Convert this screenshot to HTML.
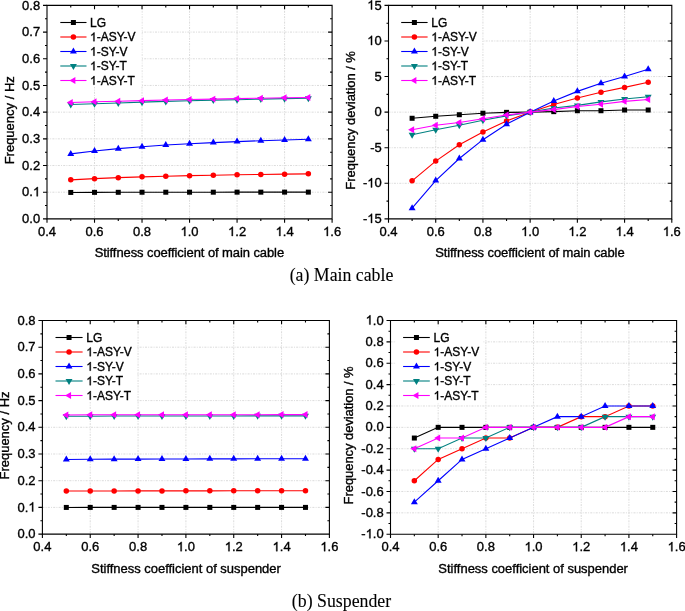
<!DOCTYPE html>
<html><head><meta charset="utf-8"><title>Frequency vs stiffness coefficient</title>
<style>
html,body{margin:0;padding:0;background:#fff;}
body{width:685px;height:611px;overflow:hidden;}
svg{display:block;will-change:transform;font-family:"Liberation Sans",sans-serif;}
text{stroke:#000;stroke-width:0.35px;}
.c{stroke-width:0.1px;}
</style></head><body>
<svg width="685" height="611" viewBox="0 0 685 611">
<rect width="685" height="611" fill="#fff"/>
<path d="M94.52 5.4V218.9M142.03 5.4V218.9M189.55 5.4V218.9M237.07 5.4V218.9M284.58 5.4V218.9M47 192.21H332.1M47 165.53H332.1M47 138.84H332.1M47 112.15H332.1M47 85.46H332.1M47 58.77H332.1M47 32.09H332.1" stroke="#d2d2d2" stroke-width="0.8" stroke-dasharray="2 1.2 1 1.2" fill="none"/>
<rect x="47.6" y="6" width="93.9" height="80.8" fill="#fff"/>
<polyline points="70.76,192.44 94.52,192.37 118.27,192.31 142.03,192.25 165.79,192.22 189.55,192.21 213.31,192.19 237.07,192.16 260.82,192.16 284.58,192.13 308.34,192.13" fill="none" stroke="#000000" stroke-width="1.1"/>
<rect x="68.26" y="189.94" width="5" height="5" fill="#000000"/>
<rect x="92.02" y="189.87" width="5" height="5" fill="#000000"/>
<rect x="115.77" y="189.81" width="5" height="5" fill="#000000"/>
<rect x="139.53" y="189.75" width="5" height="5" fill="#000000"/>
<rect x="163.29" y="189.72" width="5" height="5" fill="#000000"/>
<rect x="187.05" y="189.71" width="5" height="5" fill="#000000"/>
<rect x="210.81" y="189.69" width="5" height="5" fill="#000000"/>
<rect x="234.57" y="189.66" width="5" height="5" fill="#000000"/>
<rect x="258.32" y="189.66" width="5" height="5" fill="#000000"/>
<rect x="282.08" y="189.63" width="5" height="5" fill="#000000"/>
<rect x="305.84" y="189.63" width="5" height="5" fill="#000000"/>
<polyline points="70.76,179.84 94.52,178.64 118.27,177.65 142.03,176.87 165.79,176.2 189.55,175.67 213.31,175.2 237.07,174.8 260.82,174.46 284.58,174.16 308.34,173.85" fill="none" stroke="#ff0000" stroke-width="1.1"/>
<circle cx="70.76" cy="179.84" r="2.75" fill="#ff0000"/>
<circle cx="94.52" cy="178.64" r="2.75" fill="#ff0000"/>
<circle cx="118.27" cy="177.65" r="2.75" fill="#ff0000"/>
<circle cx="142.03" cy="176.87" r="2.75" fill="#ff0000"/>
<circle cx="165.79" cy="176.2" r="2.75" fill="#ff0000"/>
<circle cx="189.55" cy="175.67" r="2.75" fill="#ff0000"/>
<circle cx="213.31" cy="175.2" r="2.75" fill="#ff0000"/>
<circle cx="237.07" cy="174.8" r="2.75" fill="#ff0000"/>
<circle cx="260.82" cy="174.46" r="2.75" fill="#ff0000"/>
<circle cx="284.58" cy="174.16" r="2.75" fill="#ff0000"/>
<circle cx="308.34" cy="173.85" r="2.75" fill="#ff0000"/>
<polyline points="70.76,153.92 94.52,151 118.27,148.67 142.03,146.68 165.79,145.04 189.55,143.77 213.31,142.59 237.07,141.58 260.82,140.72 284.58,140 308.34,139.24" fill="none" stroke="#0000ff" stroke-width="1.1"/>
<polygon points="70.76,149.92 74.22,155.92 67.29,155.92" fill="#0000ff"/>
<polygon points="94.52,147 97.98,153 91.05,153" fill="#0000ff"/>
<polygon points="118.27,144.67 121.74,150.67 114.81,150.67" fill="#0000ff"/>
<polygon points="142.03,142.68 145.5,148.68 138.57,148.68" fill="#0000ff"/>
<polygon points="165.79,141.04 169.26,147.04 162.33,147.04" fill="#0000ff"/>
<polygon points="189.55,139.77 193.01,145.77 186.09,145.77" fill="#0000ff"/>
<polygon points="213.31,138.59 216.77,144.59 209.84,144.59" fill="#0000ff"/>
<polygon points="237.07,137.58 240.53,143.58 233.6,143.58" fill="#0000ff"/>
<polygon points="260.82,136.72 264.29,142.72 257.36,142.72" fill="#0000ff"/>
<polygon points="284.58,136 288.05,142 281.12,142" fill="#0000ff"/>
<polygon points="308.34,135.24 311.81,141.24 304.88,141.24" fill="#0000ff"/>
<polyline points="70.76,104.56 94.52,103.74 118.27,102.99 142.03,102.15 165.79,101.42 189.55,100.81 213.31,100.11 237.07,99.69 260.82,99.11 284.58,98.63 308.34,98.25" fill="none" stroke="#008080" stroke-width="1.1"/>
<polygon points="70.76,108.56 74.22,102.56 67.29,102.56" fill="#008080"/>
<polygon points="94.52,107.74 97.98,101.74 91.05,101.74" fill="#008080"/>
<polygon points="118.27,106.99 121.74,100.99 114.81,100.99" fill="#008080"/>
<polygon points="142.03,106.15 145.5,100.15 138.57,100.15" fill="#008080"/>
<polygon points="165.79,105.42 169.26,99.42 162.33,99.42" fill="#008080"/>
<polygon points="189.55,104.81 193.01,98.81 186.09,98.81" fill="#008080"/>
<polygon points="213.31,104.11 216.77,98.11 209.84,98.11" fill="#008080"/>
<polygon points="237.07,103.69 240.53,97.69 233.6,97.69" fill="#008080"/>
<polygon points="260.82,103.11 264.29,97.11 257.36,97.11" fill="#008080"/>
<polygon points="284.58,102.63 288.05,96.63 281.12,96.63" fill="#008080"/>
<polygon points="308.34,102.25 311.81,96.25 304.88,96.25" fill="#008080"/>
<polyline points="70.76,102.51 94.52,101.76 118.27,101.28 142.03,100.65 165.79,100.03 189.55,99.55 213.31,99.12 237.07,98.61 260.82,98.22 284.58,97.75 308.34,97.44" fill="none" stroke="#ff00ff" stroke-width="1.1"/>
<polygon points="66.76,102.51 72.76,99.05 72.76,105.98" fill="#ff00ff"/>
<polygon points="90.52,101.76 96.52,98.3 96.52,105.23" fill="#ff00ff"/>
<polygon points="114.27,101.28 120.27,97.82 120.27,104.75" fill="#ff00ff"/>
<polygon points="138.03,100.65 144.03,97.19 144.03,104.12" fill="#ff00ff"/>
<polygon points="161.79,100.03 167.79,96.57 167.79,103.49" fill="#ff00ff"/>
<polygon points="185.55,99.55 191.55,96.09 191.55,103.02" fill="#ff00ff"/>
<polygon points="209.31,99.12 215.31,95.66 215.31,102.59" fill="#ff00ff"/>
<polygon points="233.07,98.61 239.07,95.15 239.07,102.07" fill="#ff00ff"/>
<polygon points="256.82,98.22 262.82,94.75 262.82,101.68" fill="#ff00ff"/>
<polygon points="280.58,97.75 286.58,94.29 286.58,101.22" fill="#ff00ff"/>
<polygon points="304.34,97.44 310.34,93.98 310.34,100.91" fill="#ff00ff"/>
<path d="M47 5.4H332.1V218.9H47Z" fill="none" stroke="#000" stroke-width="1.1"/>
<path d="M47 218.9v3.8M70.76 218.9v2M70.76 5.4v2M94.52 218.9v3.8M94.52 5.4v3.8M118.27 218.9v2M118.27 5.4v2M142.03 218.9v3.8M142.03 5.4v3.8M165.79 218.9v2M165.79 5.4v2M189.55 218.9v3.8M189.55 5.4v3.8M213.31 218.9v2M213.31 5.4v2M237.07 218.9v3.8M237.07 5.4v3.8M260.82 218.9v2M260.82 5.4v2M284.58 218.9v3.8M284.58 5.4v3.8M308.34 218.9v2M308.34 5.4v2M332.1 218.9v3.8M47 218.9h-4M47 205.56h-2M332.1 205.56h-2M47 192.21h-4M332.1 192.21h-4M47 178.87h-2M332.1 178.87h-2M47 165.53h-4M332.1 165.53h-4M47 152.18h-2M332.1 152.18h-2M47 138.84h-4M332.1 138.84h-4M47 125.49h-2M332.1 125.49h-2M47 112.15h-4M332.1 112.15h-4M47 98.81h-2M332.1 98.81h-2M47 85.46h-4M332.1 85.46h-4M47 72.12h-2M332.1 72.12h-2M47 58.77h-4M332.1 58.77h-4M47 45.43h-2M332.1 45.43h-2M47 32.09h-4M332.1 32.09h-4M47 18.74h-2M332.1 18.74h-2M47 5.4h-4" stroke="#000" stroke-width="1.1" fill="none"/>
<text transform="translate(47 236) scale(1 1.0412)" text-anchor="middle" font-size="13.0">0.4</text><text transform="translate(94.52 236) scale(1 1.0412)" text-anchor="middle" font-size="13.0">0.6</text><text transform="translate(142.03 236) scale(1 1.0412)" text-anchor="middle" font-size="13.0">0.8</text><text transform="translate(189.55 236) scale(1 1.0412)" text-anchor="middle" font-size="13.0"> .0</text><path d="M763 0L583 0L583 1147Q518 1085 412 1023Q306 961 222 930L222 1104Q371 1174 482 1274Q593 1374 639 1466L763 1466Z" transform="translate(180.51 236) scale(0.006348 -0.006348)" fill="#000" stroke="#000" stroke-width="55.14"/><text transform="translate(237.07 236) scale(1 1.0412)" text-anchor="middle" font-size="13.0"> .2</text><path d="M763 0L583 0L583 1147Q518 1085 412 1023Q306 961 222 930L222 1104Q371 1174 482 1274Q593 1374 639 1466L763 1466Z" transform="translate(228.03 236) scale(0.006348 -0.006348)" fill="#000" stroke="#000" stroke-width="55.14"/><text transform="translate(284.58 236) scale(1 1.0412)" text-anchor="middle" font-size="13.0"> .4</text><path d="M763 0L583 0L583 1147Q518 1085 412 1023Q306 961 222 930L222 1104Q371 1174 482 1274Q593 1374 639 1466L763 1466Z" transform="translate(275.55 236) scale(0.006348 -0.006348)" fill="#000" stroke="#000" stroke-width="55.14"/><text transform="translate(332.1 236) scale(1 1.0412)" text-anchor="middle" font-size="13.0"> .6</text><path d="M763 0L583 0L583 1147Q518 1085 412 1023Q306 961 222 930L222 1104Q371 1174 482 1274Q593 1374 639 1466L763 1466Z" transform="translate(323.06 236) scale(0.006348 -0.006348)" fill="#000" stroke="#000" stroke-width="55.14"/><text transform="translate(40.2 223) scale(1 1.0412)" text-anchor="end" font-size="13.0">0.0</text><text transform="translate(40.2 196.31) scale(1 1.0412)" text-anchor="end" font-size="13.0">0. </text><path d="M763 0L583 0L583 1147Q518 1085 412 1023Q306 961 222 930L222 1104Q371 1174 482 1274Q593 1374 639 1466L763 1466Z" transform="translate(32.97 196.31) scale(0.006348 -0.006348)" fill="#000" stroke="#000" stroke-width="55.14"/><text transform="translate(40.2 169.62) scale(1 1.0412)" text-anchor="end" font-size="13.0">0.2</text><text transform="translate(40.2 142.94) scale(1 1.0412)" text-anchor="end" font-size="13.0">0.3</text><text transform="translate(40.2 116.25) scale(1 1.0412)" text-anchor="end" font-size="13.0">0.4</text><text transform="translate(40.2 89.56) scale(1 1.0412)" text-anchor="end" font-size="13.0">0.5</text><text transform="translate(40.2 62.87) scale(1 1.0412)" text-anchor="end" font-size="13.0">0.6</text><text transform="translate(40.2 36.19) scale(1 1.0412)" text-anchor="end" font-size="13.0">0.7</text><text transform="translate(40.2 9.5) scale(1 1.0412)" text-anchor="end" font-size="13.0">0.8</text>
<text transform="translate(189.35 257.4) scale(1 1.0412)" text-anchor="middle" font-size="13.0" letter-spacing="-0.085">Stiffness coefficient of main cable</text>
<text transform="translate(14.3 120.3) rotate(-90) scale(1 1.0412)" text-anchor="middle" font-size="13.0" letter-spacing="0">Frequency / Hz</text>
<path d="M60.3 22.5H86.5" stroke="#000000" stroke-width="1.1"/><rect x="70.9" y="20" width="5" height="5" fill="#000000"/><text transform="translate(90 26.7) scale(1 1.0412)" font-size="12.0">LG</text><path d="M60.3 37H86.5" stroke="#ff0000" stroke-width="1.1"/><circle cx="73.4" cy="37" r="2.75" fill="#ff0000"/><text transform="translate(90 41.2) scale(1 1.0412)" font-size="12.0"> -ASY-V</text><path d="M763 0L583 0L583 1147Q518 1085 412 1023Q306 961 222 930L222 1104Q371 1174 482 1274Q593 1374 639 1466L763 1466Z" transform="translate(90 41.2) scale(0.005859 -0.005859)" fill="#000" stroke="#000" stroke-width="59.73"/><path d="M60.3 51.5H86.5" stroke="#0000ff" stroke-width="1.1"/><polygon points="73.4,47.5 76.86,53.5 69.94,53.5" fill="#0000ff"/><text transform="translate(90 55.7) scale(1 1.0412)" font-size="12.0"> -SY-V</text><path d="M763 0L583 0L583 1147Q518 1085 412 1023Q306 961 222 930L222 1104Q371 1174 482 1274Q593 1374 639 1466L763 1466Z" transform="translate(90 55.7) scale(0.005859 -0.005859)" fill="#000" stroke="#000" stroke-width="59.73"/><path d="M60.3 66H86.5" stroke="#008080" stroke-width="1.1"/><polygon points="73.4,70 76.86,64 69.94,64" fill="#008080"/><text transform="translate(90 70.2) scale(1 1.0412)" font-size="12.0"> -SY-T</text><path d="M763 0L583 0L583 1147Q518 1085 412 1023Q306 961 222 930L222 1104Q371 1174 482 1274Q593 1374 639 1466L763 1466Z" transform="translate(90 70.2) scale(0.005859 -0.005859)" fill="#000" stroke="#000" stroke-width="59.73"/><path d="M60.3 80.5H86.5" stroke="#ff00ff" stroke-width="1.1"/><polygon points="69.4,80.5 75.4,77.04 75.4,83.96" fill="#ff00ff"/><text transform="translate(90 84.7) scale(1 1.0412)" font-size="12.0"> -ASY-T</text><path d="M763 0L583 0L583 1147Q518 1085 412 1023Q306 961 222 930L222 1104Q371 1174 482 1274Q593 1374 639 1466L763 1466Z" transform="translate(90 84.7) scale(0.005859 -0.005859)" fill="#000" stroke="#000" stroke-width="59.73"/>
<path d="M435.72 5.4V218.9M482.93 5.4V218.9M530.15 5.4V218.9M577.37 5.4V218.9M624.58 5.4V218.9M388.5 183.32H671.8M388.5 147.73H671.8M388.5 112.15H671.8M388.5 76.57H671.8M388.5 40.98H671.8" stroke="#d2d2d2" stroke-width="0.8" stroke-dasharray="2 1.2 1 1.2" fill="none"/>
<rect x="389" y="6" width="93" height="80.8" fill="#fff"/>
<polyline points="412.11,118.27 435.72,116.28 459.32,114.71 482.93,113.22 506.54,112.36 530.15,112.15 553.76,111.65 577.37,110.73 600.97,110.73 624.58,110.02 648.19,110.02" fill="none" stroke="#000000" stroke-width="1.1"/>
<rect x="409.61" y="115.77" width="5" height="5" fill="#000000"/>
<rect x="433.22" y="113.78" width="5" height="5" fill="#000000"/>
<rect x="456.82" y="112.21" width="5" height="5" fill="#000000"/>
<rect x="480.43" y="110.72" width="5" height="5" fill="#000000"/>
<rect x="504.04" y="109.86" width="5" height="5" fill="#000000"/>
<rect x="527.65" y="109.65" width="5" height="5" fill="#000000"/>
<rect x="551.26" y="109.15" width="5" height="5" fill="#000000"/>
<rect x="574.87" y="108.23" width="5" height="5" fill="#000000"/>
<rect x="598.47" y="108.23" width="5" height="5" fill="#000000"/>
<rect x="622.08" y="107.52" width="5" height="5" fill="#000000"/>
<rect x="645.69" y="107.52" width="5" height="5" fill="#000000"/>
<polyline points="412.11,180.83 435.72,161.11 459.32,144.82 482.93,132.01 506.54,120.9 530.15,112.15 553.76,104.46 577.37,97.92 600.97,92.29 624.58,87.38 648.19,82.26" fill="none" stroke="#ff0000" stroke-width="1.1"/>
<circle cx="412.11" cy="180.83" r="2.75" fill="#ff0000"/>
<circle cx="435.72" cy="161.11" r="2.75" fill="#ff0000"/>
<circle cx="459.32" cy="144.82" r="2.75" fill="#ff0000"/>
<circle cx="482.93" cy="132.01" r="2.75" fill="#ff0000"/>
<circle cx="506.54" cy="120.9" r="2.75" fill="#ff0000"/>
<circle cx="530.15" cy="112.15" r="2.75" fill="#ff0000"/>
<circle cx="553.76" cy="104.46" r="2.75" fill="#ff0000"/>
<circle cx="577.37" cy="97.92" r="2.75" fill="#ff0000"/>
<circle cx="600.97" cy="92.29" r="2.75" fill="#ff0000"/>
<circle cx="624.58" cy="87.38" r="2.75" fill="#ff0000"/>
<circle cx="648.19" cy="82.26" r="2.75" fill="#ff0000"/>
<polyline points="412.11,208.22 435.72,180.61 459.32,158.48 482.93,139.69 506.54,124.18 530.15,112.15 553.76,100.91 577.37,91.37 600.97,83.19 624.58,76.42 648.19,69.17" fill="none" stroke="#0000ff" stroke-width="1.1"/>
<polygon points="412.11,204.22 415.57,210.22 408.64,210.22" fill="#0000ff"/>
<polygon points="435.72,176.61 439.18,182.61 432.25,182.61" fill="#0000ff"/>
<polygon points="459.32,154.48 462.79,160.48 455.86,160.48" fill="#0000ff"/>
<polygon points="482.93,135.69 486.4,141.69 479.47,141.69" fill="#0000ff"/>
<polygon points="506.54,120.18 510.01,126.18 503.08,126.18" fill="#0000ff"/>
<polygon points="530.15,108.15 533.61,114.15 526.69,114.15" fill="#0000ff"/>
<polygon points="553.76,96.91 557.22,102.91 550.29,102.91" fill="#0000ff"/>
<polygon points="577.37,87.37 580.83,93.37 573.9,93.37" fill="#0000ff"/>
<polygon points="600.97,79.19 604.44,85.19 597.51,85.19" fill="#0000ff"/>
<polygon points="624.58,72.42 628.05,78.42 621.12,78.42" fill="#0000ff"/>
<polygon points="648.19,65.17 651.66,71.17 644.73,71.17" fill="#0000ff"/>
<polyline points="412.11,134.78 435.72,129.8 459.32,125.32 482.93,120.26 506.54,115.85 530.15,112.15 553.76,107.95 577.37,105.39 600.97,101.9 624.58,99.06 648.19,96.71" fill="none" stroke="#008080" stroke-width="1.1"/>
<polygon points="412.11,138.78 415.57,132.78 408.64,132.78" fill="#008080"/>
<polygon points="435.72,133.8 439.18,127.8 432.25,127.8" fill="#008080"/>
<polygon points="459.32,129.32 462.79,123.32 455.86,123.32" fill="#008080"/>
<polygon points="482.93,124.26 486.4,118.26 479.47,118.26" fill="#008080"/>
<polygon points="506.54,119.85 510.01,113.85 503.08,113.85" fill="#008080"/>
<polygon points="530.15,116.15 533.61,110.15 526.69,110.15" fill="#008080"/>
<polygon points="553.76,111.95 557.22,105.95 550.29,105.95" fill="#008080"/>
<polygon points="577.37,109.39 580.83,103.39 573.9,103.39" fill="#008080"/>
<polygon points="600.97,105.9 604.44,99.9 597.51,99.9" fill="#008080"/>
<polygon points="624.58,103.06 628.05,97.06 621.12,97.06" fill="#008080"/>
<polygon points="648.19,100.71 651.66,94.71 644.73,94.71" fill="#008080"/>
<polyline points="412.11,129.8 435.72,125.32 459.32,122.47 482.93,118.7 506.54,115 530.15,112.15 553.76,109.59 577.37,106.53 600.97,104.18 624.58,101.4 648.19,99.55" fill="none" stroke="#ff00ff" stroke-width="1.1"/>
<polygon points="408.11,129.8 414.11,126.34 414.11,133.26" fill="#ff00ff"/>
<polygon points="431.72,125.32 437.72,121.85 437.72,128.78" fill="#ff00ff"/>
<polygon points="455.32,122.47 461.32,119.01 461.32,125.93" fill="#ff00ff"/>
<polygon points="478.93,118.7 484.93,115.23 484.93,122.16" fill="#ff00ff"/>
<polygon points="502.54,115 508.54,111.53 508.54,118.46" fill="#ff00ff"/>
<polygon points="526.15,112.15 532.15,108.69 532.15,115.61" fill="#ff00ff"/>
<polygon points="549.76,109.59 555.76,106.12 555.76,113.05" fill="#ff00ff"/>
<polygon points="573.37,106.53 579.37,103.06 579.37,109.99" fill="#ff00ff"/>
<polygon points="596.97,104.18 602.97,100.72 602.97,107.64" fill="#ff00ff"/>
<polygon points="620.58,101.4 626.58,97.94 626.58,104.87" fill="#ff00ff"/>
<polygon points="644.19,99.55 650.19,96.09 650.19,103.02" fill="#ff00ff"/>
<path d="M388.5 5.4H671.8V218.9H388.5Z" fill="none" stroke="#000" stroke-width="1.1"/>
<path d="M388.5 218.9v3.8M412.11 218.9v2M412.11 5.4v2M435.72 218.9v3.8M435.72 5.4v3.8M459.32 218.9v2M459.32 5.4v2M482.93 218.9v3.8M482.93 5.4v3.8M506.54 218.9v2M506.54 5.4v2M530.15 218.9v3.8M530.15 5.4v3.8M553.76 218.9v2M553.76 5.4v2M577.37 218.9v3.8M577.37 5.4v3.8M600.97 218.9v2M600.97 5.4v2M624.58 218.9v3.8M624.58 5.4v3.8M648.19 218.9v2M648.19 5.4v2M671.8 218.9v3.8M388.5 218.9h-4M388.5 201.11h-2M671.8 201.11h-2M388.5 183.32h-4M671.8 183.32h-4M388.5 165.53h-2M671.8 165.53h-2M388.5 147.73h-4M671.8 147.73h-4M388.5 129.94h-2M671.8 129.94h-2M388.5 112.15h-4M671.8 112.15h-4M388.5 94.36h-2M671.8 94.36h-2M388.5 76.57h-4M671.8 76.57h-4M388.5 58.78h-2M671.8 58.78h-2M388.5 40.98h-4M671.8 40.98h-4M388.5 23.19h-2M671.8 23.19h-2M388.5 5.4h-4" stroke="#000" stroke-width="1.1" fill="none"/>
<text transform="translate(388.5 236) scale(1 1.0412)" text-anchor="middle" font-size="13.0">0.4</text><text transform="translate(435.72 236) scale(1 1.0412)" text-anchor="middle" font-size="13.0">0.6</text><text transform="translate(482.93 236) scale(1 1.0412)" text-anchor="middle" font-size="13.0">0.8</text><text transform="translate(530.15 236) scale(1 1.0412)" text-anchor="middle" font-size="13.0"> .0</text><path d="M763 0L583 0L583 1147Q518 1085 412 1023Q306 961 222 930L222 1104Q371 1174 482 1274Q593 1374 639 1466L763 1466Z" transform="translate(521.11 236) scale(0.006348 -0.006348)" fill="#000" stroke="#000" stroke-width="55.14"/><text transform="translate(577.37 236) scale(1 1.0412)" text-anchor="middle" font-size="13.0"> .2</text><path d="M763 0L583 0L583 1147Q518 1085 412 1023Q306 961 222 930L222 1104Q371 1174 482 1274Q593 1374 639 1466L763 1466Z" transform="translate(568.33 236) scale(0.006348 -0.006348)" fill="#000" stroke="#000" stroke-width="55.14"/><text transform="translate(624.58 236) scale(1 1.0412)" text-anchor="middle" font-size="13.0"> .4</text><path d="M763 0L583 0L583 1147Q518 1085 412 1023Q306 961 222 930L222 1104Q371 1174 482 1274Q593 1374 639 1466L763 1466Z" transform="translate(615.55 236) scale(0.006348 -0.006348)" fill="#000" stroke="#000" stroke-width="55.14"/><text transform="translate(671.8 236) scale(1 1.0412)" text-anchor="middle" font-size="13.0"> .6</text><path d="M763 0L583 0L583 1147Q518 1085 412 1023Q306 961 222 930L222 1104Q371 1174 482 1274Q593 1374 639 1466L763 1466Z" transform="translate(662.76 236) scale(0.006348 -0.006348)" fill="#000" stroke="#000" stroke-width="55.14"/><text transform="translate(381.7 223) scale(1 1.0412)" text-anchor="end" font-size="13.0">- 5</text><path d="M763 0L583 0L583 1147Q518 1085 412 1023Q306 961 222 930L222 1104Q371 1174 482 1274Q593 1374 639 1466L763 1466Z" transform="translate(367.24 223) scale(0.006348 -0.006348)" fill="#000" stroke="#000" stroke-width="55.14"/><text transform="translate(381.7 187.42) scale(1 1.0412)" text-anchor="end" font-size="13.0">- 0</text><path d="M763 0L583 0L583 1147Q518 1085 412 1023Q306 961 222 930L222 1104Q371 1174 482 1274Q593 1374 639 1466L763 1466Z" transform="translate(367.24 187.42) scale(0.006348 -0.006348)" fill="#000" stroke="#000" stroke-width="55.14"/><text transform="translate(381.7 151.83) scale(1 1.0412)" text-anchor="end" font-size="13.0">-5</text><text transform="translate(381.7 116.25) scale(1 1.0412)" text-anchor="end" font-size="13.0">0</text><text transform="translate(381.7 80.67) scale(1 1.0412)" text-anchor="end" font-size="13.0">5</text><text transform="translate(381.7 45.08) scale(1 1.0412)" text-anchor="end" font-size="13.0"> 0</text><path d="M763 0L583 0L583 1147Q518 1085 412 1023Q306 961 222 930L222 1104Q371 1174 482 1274Q593 1374 639 1466L763 1466Z" transform="translate(367.24 45.08) scale(0.006348 -0.006348)" fill="#000" stroke="#000" stroke-width="55.14"/><text transform="translate(381.7 9.5) scale(1 1.0412)" text-anchor="end" font-size="13.0"> 5</text><path d="M763 0L583 0L583 1147Q518 1085 412 1023Q306 961 222 930L222 1104Q371 1174 482 1274Q593 1374 639 1466L763 1466Z" transform="translate(367.24 9.5) scale(0.006348 -0.006348)" fill="#000" stroke="#000" stroke-width="55.14"/>
<text transform="translate(529.85 257.4) scale(1 1.0412)" text-anchor="middle" font-size="13.0" letter-spacing="-0.085">Stiffness coefficient of main cable</text>
<text transform="translate(355 120.4) rotate(-90) scale(1 1.0412)" text-anchor="middle" font-size="13.0" letter-spacing="-0.04">Frequency deviation / %</text>
<path d="M401.2 22.5H427.6" stroke="#000000" stroke-width="1.1"/><rect x="411.9" y="20" width="5" height="5" fill="#000000"/><text transform="translate(431.3 26.7) scale(1 1.0412)" font-size="12.0">LG</text><path d="M401.2 37H427.6" stroke="#ff0000" stroke-width="1.1"/><circle cx="414.4" cy="37" r="2.75" fill="#ff0000"/><text transform="translate(431.3 41.2) scale(1 1.0412)" font-size="12.0"> -ASY-V</text><path d="M763 0L583 0L583 1147Q518 1085 412 1023Q306 961 222 930L222 1104Q371 1174 482 1274Q593 1374 639 1466L763 1466Z" transform="translate(431.3 41.2) scale(0.005859 -0.005859)" fill="#000" stroke="#000" stroke-width="59.73"/><path d="M401.2 51.5H427.6" stroke="#0000ff" stroke-width="1.1"/><polygon points="414.4,47.5 417.86,53.5 410.94,53.5" fill="#0000ff"/><text transform="translate(431.3 55.7) scale(1 1.0412)" font-size="12.0"> -SY-V</text><path d="M763 0L583 0L583 1147Q518 1085 412 1023Q306 961 222 930L222 1104Q371 1174 482 1274Q593 1374 639 1466L763 1466Z" transform="translate(431.3 55.7) scale(0.005859 -0.005859)" fill="#000" stroke="#000" stroke-width="59.73"/><path d="M401.2 66H427.6" stroke="#008080" stroke-width="1.1"/><polygon points="414.4,70 417.86,64 410.94,64" fill="#008080"/><text transform="translate(431.3 70.2) scale(1 1.0412)" font-size="12.0"> -SY-T</text><path d="M763 0L583 0L583 1147Q518 1085 412 1023Q306 961 222 930L222 1104Q371 1174 482 1274Q593 1374 639 1466L763 1466Z" transform="translate(431.3 70.2) scale(0.005859 -0.005859)" fill="#000" stroke="#000" stroke-width="59.73"/><path d="M401.2 80.5H427.6" stroke="#ff00ff" stroke-width="1.1"/><polygon points="410.4,80.5 416.4,77.04 416.4,83.96" fill="#ff00ff"/><text transform="translate(431.3 84.7) scale(1 1.0412)" font-size="12.0"> -ASY-T</text><path d="M763 0L583 0L583 1147Q518 1085 412 1023Q306 961 222 930L222 1104Q371 1174 482 1274Q593 1374 639 1466L763 1466Z" transform="translate(431.3 84.7) scale(0.005859 -0.005859)" fill="#000" stroke="#000" stroke-width="59.73"/>
<path d="M90.23 320.5V534.1M138.07 320.5V534.1M185.9 320.5V534.1M233.73 320.5V534.1M281.57 320.5V534.1M42.4 507.4H329.4M42.4 480.7H329.4M42.4 454H329.4M42.4 427.3H329.4M42.4 400.6H329.4M42.4 373.9H329.4M42.4 347.2H329.4" stroke="#d2d2d2" stroke-width="0.8" stroke-dasharray="2 1.2 1 1.2" fill="none"/>
<rect x="43" y="321" width="94" height="81" fill="#fff"/>
<polyline points="66.32,507.43 90.23,507.4 114.15,507.4 138.07,507.4 161.98,507.4 185.9,507.4 209.82,507.4 233.73,507.4 257.65,507.4 281.57,507.4 305.48,507.4" fill="none" stroke="#000000" stroke-width="1.1"/>
<rect x="63.82" y="504.93" width="5" height="5" fill="#000000"/>
<rect x="87.73" y="504.9" width="5" height="5" fill="#000000"/>
<rect x="111.65" y="504.9" width="5" height="5" fill="#000000"/>
<rect x="135.57" y="504.9" width="5" height="5" fill="#000000"/>
<rect x="159.48" y="504.9" width="5" height="5" fill="#000000"/>
<rect x="183.4" y="504.9" width="5" height="5" fill="#000000"/>
<rect x="207.32" y="504.9" width="5" height="5" fill="#000000"/>
<rect x="231.23" y="504.9" width="5" height="5" fill="#000000"/>
<rect x="255.15" y="504.9" width="5" height="5" fill="#000000"/>
<rect x="279.07" y="504.9" width="5" height="5" fill="#000000"/>
<rect x="302.98" y="504.9" width="5" height="5" fill="#000000"/>
<polyline points="66.32,491.06 90.23,490.98 114.15,490.93 138.07,490.89 161.98,490.89 185.9,490.85 209.82,490.85 233.73,490.8 257.65,490.8 281.57,490.76 305.48,490.76" fill="none" stroke="#ff0000" stroke-width="1.1"/>
<circle cx="66.32" cy="491.06" r="2.75" fill="#ff0000"/>
<circle cx="90.23" cy="490.98" r="2.75" fill="#ff0000"/>
<circle cx="114.15" cy="490.93" r="2.75" fill="#ff0000"/>
<circle cx="138.07" cy="490.89" r="2.75" fill="#ff0000"/>
<circle cx="161.98" cy="490.89" r="2.75" fill="#ff0000"/>
<circle cx="185.9" cy="490.85" r="2.75" fill="#ff0000"/>
<circle cx="209.82" cy="490.85" r="2.75" fill="#ff0000"/>
<circle cx="233.73" cy="490.8" r="2.75" fill="#ff0000"/>
<circle cx="257.65" cy="490.8" r="2.75" fill="#ff0000"/>
<circle cx="281.57" cy="490.76" r="2.75" fill="#ff0000"/>
<circle cx="305.48" cy="490.76" r="2.75" fill="#ff0000"/>
<polyline points="66.32,459.47 90.23,459.32 114.15,459.16 138.07,459.09 161.98,459.01 185.9,458.94 209.82,458.86 233.73,458.86 257.65,458.79 281.57,458.79 305.48,458.79" fill="none" stroke="#0000ff" stroke-width="1.1"/>
<polygon points="66.32,455.47 69.78,461.47 62.85,461.47" fill="#0000ff"/>
<polygon points="90.23,455.32 93.7,461.32 86.77,461.32" fill="#0000ff"/>
<polygon points="114.15,455.16 117.61,461.16 110.69,461.16" fill="#0000ff"/>
<polygon points="138.07,455.09 141.53,461.09 134.6,461.09" fill="#0000ff"/>
<polygon points="161.98,455.01 165.45,461.01 158.52,461.01" fill="#0000ff"/>
<polygon points="185.9,454.94 189.36,460.94 182.44,460.94" fill="#0000ff"/>
<polygon points="209.82,454.86 213.28,460.86 206.35,460.86" fill="#0000ff"/>
<polygon points="233.73,454.86 237.2,460.86 230.27,460.86" fill="#0000ff"/>
<polygon points="257.65,454.79 261.11,460.79 254.19,460.79" fill="#0000ff"/>
<polygon points="281.57,454.79 285.03,460.79 278.1,460.79" fill="#0000ff"/>
<polygon points="305.48,454.79 308.95,460.79 302.02,460.79" fill="#0000ff"/>
<polyline points="66.32,416.19 90.23,416.19 114.15,416.07 138.07,416.07 161.98,415.95 185.9,415.95 209.82,415.95 233.73,415.95 257.65,415.83 281.57,415.83 305.48,415.83" fill="none" stroke="#008080" stroke-width="1.1"/>
<polygon points="66.32,420.19 69.78,414.19 62.85,414.19" fill="#008080"/>
<polygon points="90.23,420.19 93.7,414.19 86.77,414.19" fill="#008080"/>
<polygon points="114.15,420.07 117.61,414.07 110.69,414.07" fill="#008080"/>
<polygon points="138.07,420.07 141.53,414.07 134.6,414.07" fill="#008080"/>
<polygon points="161.98,419.95 165.45,413.95 158.52,413.95" fill="#008080"/>
<polygon points="185.9,419.95 189.36,413.95 182.44,413.95" fill="#008080"/>
<polygon points="209.82,419.95 213.28,413.95 206.35,413.95" fill="#008080"/>
<polygon points="233.73,419.95 237.2,413.95 230.27,413.95" fill="#008080"/>
<polygon points="257.65,419.83 261.11,413.83 254.19,413.83" fill="#008080"/>
<polygon points="281.57,419.83 285.03,413.83 278.1,413.83" fill="#008080"/>
<polygon points="305.48,419.83 308.95,413.83 302.02,413.83" fill="#008080"/>
<polyline points="66.32,414.94 90.23,414.82 114.15,414.82 138.07,414.7 161.98,414.7 185.9,414.7 209.82,414.7 233.73,414.7 257.65,414.7 281.57,414.58 305.48,414.58" fill="none" stroke="#ff00ff" stroke-width="1.1"/>
<polygon points="62.32,414.94 68.32,411.47 68.32,418.4" fill="#ff00ff"/>
<polygon points="86.23,414.82 92.23,411.35 92.23,418.28" fill="#ff00ff"/>
<polygon points="110.15,414.82 116.15,411.35 116.15,418.28" fill="#ff00ff"/>
<polygon points="134.07,414.7 140.07,411.23 140.07,418.16" fill="#ff00ff"/>
<polygon points="157.98,414.7 163.98,411.23 163.98,418.16" fill="#ff00ff"/>
<polygon points="181.9,414.7 187.9,411.23 187.9,418.16" fill="#ff00ff"/>
<polygon points="205.82,414.7 211.82,411.23 211.82,418.16" fill="#ff00ff"/>
<polygon points="229.73,414.7 235.73,411.23 235.73,418.16" fill="#ff00ff"/>
<polygon points="253.65,414.7 259.65,411.23 259.65,418.16" fill="#ff00ff"/>
<polygon points="277.57,414.58 283.57,411.11 283.57,418.04" fill="#ff00ff"/>
<polygon points="301.48,414.58 307.48,411.11 307.48,418.04" fill="#ff00ff"/>
<path d="M42.4 320.5H329.4V534.1H42.4Z" fill="none" stroke="#000" stroke-width="1.1"/>
<path d="M42.4 534.1v3.8M66.32 534.1v2M66.32 320.5v2M90.23 534.1v3.8M90.23 320.5v3.8M114.15 534.1v2M114.15 320.5v2M138.07 534.1v3.8M138.07 320.5v3.8M161.98 534.1v2M161.98 320.5v2M185.9 534.1v3.8M185.9 320.5v3.8M209.82 534.1v2M209.82 320.5v2M233.73 534.1v3.8M233.73 320.5v3.8M257.65 534.1v2M257.65 320.5v2M281.57 534.1v3.8M281.57 320.5v3.8M305.48 534.1v2M305.48 320.5v2M329.4 534.1v3.8M42.4 534.1h-4M42.4 520.75h-2M329.4 520.75h-2M42.4 507.4h-4M329.4 507.4h-4M42.4 494.05h-2M329.4 494.05h-2M42.4 480.7h-4M329.4 480.7h-4M42.4 467.35h-2M329.4 467.35h-2M42.4 454h-4M329.4 454h-4M42.4 440.65h-2M329.4 440.65h-2M42.4 427.3h-4M329.4 427.3h-4M42.4 413.95h-2M329.4 413.95h-2M42.4 400.6h-4M329.4 400.6h-4M42.4 387.25h-2M329.4 387.25h-2M42.4 373.9h-4M329.4 373.9h-4M42.4 360.55h-2M329.4 360.55h-2M42.4 347.2h-4M329.4 347.2h-4M42.4 333.85h-2M329.4 333.85h-2M42.4 320.5h-4" stroke="#000" stroke-width="1.1" fill="none"/>
<text transform="translate(42.4 551.2) scale(1 1.0412)" text-anchor="middle" font-size="13.0">0.4</text><text transform="translate(90.23 551.2) scale(1 1.0412)" text-anchor="middle" font-size="13.0">0.6</text><text transform="translate(138.07 551.2) scale(1 1.0412)" text-anchor="middle" font-size="13.0">0.8</text><text transform="translate(185.9 551.2) scale(1 1.0412)" text-anchor="middle" font-size="13.0"> .0</text><path d="M763 0L583 0L583 1147Q518 1085 412 1023Q306 961 222 930L222 1104Q371 1174 482 1274Q593 1374 639 1466L763 1466Z" transform="translate(176.86 551.2) scale(0.006348 -0.006348)" fill="#000" stroke="#000" stroke-width="55.14"/><text transform="translate(233.73 551.2) scale(1 1.0412)" text-anchor="middle" font-size="13.0"> .2</text><path d="M763 0L583 0L583 1147Q518 1085 412 1023Q306 961 222 930L222 1104Q371 1174 482 1274Q593 1374 639 1466L763 1466Z" transform="translate(224.7 551.2) scale(0.006348 -0.006348)" fill="#000" stroke="#000" stroke-width="55.14"/><text transform="translate(281.57 551.2) scale(1 1.0412)" text-anchor="middle" font-size="13.0"> .4</text><path d="M763 0L583 0L583 1147Q518 1085 412 1023Q306 961 222 930L222 1104Q371 1174 482 1274Q593 1374 639 1466L763 1466Z" transform="translate(272.53 551.2) scale(0.006348 -0.006348)" fill="#000" stroke="#000" stroke-width="55.14"/><text transform="translate(329.4 551.2) scale(1 1.0412)" text-anchor="middle" font-size="13.0"> .6</text><path d="M763 0L583 0L583 1147Q518 1085 412 1023Q306 961 222 930L222 1104Q371 1174 482 1274Q593 1374 639 1466L763 1466Z" transform="translate(320.36 551.2) scale(0.006348 -0.006348)" fill="#000" stroke="#000" stroke-width="55.14"/><text transform="translate(35.6 538.2) scale(1 1.0412)" text-anchor="end" font-size="13.0">0.0</text><text transform="translate(35.6 511.5) scale(1 1.0412)" text-anchor="end" font-size="13.0">0. </text><path d="M763 0L583 0L583 1147Q518 1085 412 1023Q306 961 222 930L222 1104Q371 1174 482 1274Q593 1374 639 1466L763 1466Z" transform="translate(28.37 511.5) scale(0.006348 -0.006348)" fill="#000" stroke="#000" stroke-width="55.14"/><text transform="translate(35.6 484.8) scale(1 1.0412)" text-anchor="end" font-size="13.0">0.2</text><text transform="translate(35.6 458.1) scale(1 1.0412)" text-anchor="end" font-size="13.0">0.3</text><text transform="translate(35.6 431.4) scale(1 1.0412)" text-anchor="end" font-size="13.0">0.4</text><text transform="translate(35.6 404.7) scale(1 1.0412)" text-anchor="end" font-size="13.0">0.5</text><text transform="translate(35.6 378) scale(1 1.0412)" text-anchor="end" font-size="13.0">0.6</text><text transform="translate(35.6 351.3) scale(1 1.0412)" text-anchor="end" font-size="13.0">0.7</text><text transform="translate(35.6 324.6) scale(1 1.0412)" text-anchor="end" font-size="13.0">0.8</text>
<text transform="translate(186.05 572.6) scale(1 1.0412)" text-anchor="middle" font-size="13.0" letter-spacing="-0.02">Stiffness coefficient of suspender</text>
<text transform="translate(9 435.5) rotate(-90) scale(1 1.0412)" text-anchor="middle" font-size="13.0" letter-spacing="0">Frequency / Hz</text>
<path d="M55.5 337.5H82.6" stroke="#000000" stroke-width="1.1"/><rect x="66.55" y="335" width="5" height="5" fill="#000000"/><text transform="translate(86.3 341.7) scale(1 1.0412)" font-size="12.0">LG</text><path d="M55.5 352H82.6" stroke="#ff0000" stroke-width="1.1"/><circle cx="69.05" cy="352" r="2.75" fill="#ff0000"/><text transform="translate(86.3 356.2) scale(1 1.0412)" font-size="12.0"> -ASY-V</text><path d="M763 0L583 0L583 1147Q518 1085 412 1023Q306 961 222 930L222 1104Q371 1174 482 1274Q593 1374 639 1466L763 1466Z" transform="translate(86.3 356.2) scale(0.005859 -0.005859)" fill="#000" stroke="#000" stroke-width="59.73"/><path d="M55.5 366.5H82.6" stroke="#0000ff" stroke-width="1.1"/><polygon points="69.05,362.5 72.51,368.5 65.59,368.5" fill="#0000ff"/><text transform="translate(86.3 370.7) scale(1 1.0412)" font-size="12.0"> -SY-V</text><path d="M763 0L583 0L583 1147Q518 1085 412 1023Q306 961 222 930L222 1104Q371 1174 482 1274Q593 1374 639 1466L763 1466Z" transform="translate(86.3 370.7) scale(0.005859 -0.005859)" fill="#000" stroke="#000" stroke-width="59.73"/><path d="M55.5 381H82.6" stroke="#008080" stroke-width="1.1"/><polygon points="69.05,385 72.51,379 65.59,379" fill="#008080"/><text transform="translate(86.3 385.2) scale(1 1.0412)" font-size="12.0"> -SY-T</text><path d="M763 0L583 0L583 1147Q518 1085 412 1023Q306 961 222 930L222 1104Q371 1174 482 1274Q593 1374 639 1466L763 1466Z" transform="translate(86.3 385.2) scale(0.005859 -0.005859)" fill="#000" stroke="#000" stroke-width="59.73"/><path d="M55.5 395.5H82.6" stroke="#ff00ff" stroke-width="1.1"/><polygon points="65.05,395.5 71.05,392.04 71.05,398.96" fill="#ff00ff"/><text transform="translate(86.3 399.7) scale(1 1.0412)" font-size="12.0"> -ASY-T</text><path d="M763 0L583 0L583 1147Q518 1085 412 1023Q306 961 222 930L222 1104Q371 1174 482 1274Q593 1374 639 1466L763 1466Z" transform="translate(86.3 399.7) scale(0.005859 -0.005859)" fill="#000" stroke="#000" stroke-width="59.73"/>
<path d="M438.18 320.5V534.2M485.87 320.5V534.2M533.55 320.5V534.2M581.23 320.5V534.2M628.92 320.5V534.2M390.5 512.83H676.6M390.5 491.46H676.6M390.5 470.09H676.6M390.5 448.72H676.6M390.5 427.35H676.6M390.5 405.98H676.6M390.5 384.61H676.6M390.5 363.24H676.6M390.5 341.87H676.6" stroke="#d2d2d2" stroke-width="0.8" stroke-dasharray="2 1.2 1 1.2" fill="none"/>
<rect x="396" y="326.5" width="87.5" height="76.5" fill="#fff"/>
<polyline points="414.34,438.04 438.18,427.35 462.02,427.35 485.87,427.35 509.71,427.35 533.55,427.35 557.39,427.35 581.23,427.35 605.08,427.35 628.92,427.35 652.76,427.35" fill="none" stroke="#000000" stroke-width="1.1"/>
<rect x="411.84" y="435.54" width="5" height="5" fill="#000000"/>
<rect x="435.68" y="424.85" width="5" height="5" fill="#000000"/>
<rect x="459.52" y="424.85" width="5" height="5" fill="#000000"/>
<rect x="483.37" y="424.85" width="5" height="5" fill="#000000"/>
<rect x="507.21" y="424.85" width="5" height="5" fill="#000000"/>
<rect x="531.05" y="424.85" width="5" height="5" fill="#000000"/>
<rect x="554.89" y="424.85" width="5" height="5" fill="#000000"/>
<rect x="578.73" y="424.85" width="5" height="5" fill="#000000"/>
<rect x="602.58" y="424.85" width="5" height="5" fill="#000000"/>
<rect x="626.42" y="424.85" width="5" height="5" fill="#000000"/>
<rect x="650.26" y="424.85" width="5" height="5" fill="#000000"/>
<polyline points="414.34,480.78 438.18,459.41 462.02,448.72 485.87,438.04 509.71,438.04 533.55,427.35 557.39,427.35 581.23,416.67 605.08,416.67 628.92,405.98 652.76,405.98" fill="none" stroke="#ff0000" stroke-width="1.1"/>
<circle cx="414.34" cy="480.78" r="2.75" fill="#ff0000"/>
<circle cx="438.18" cy="459.41" r="2.75" fill="#ff0000"/>
<circle cx="462.02" cy="448.72" r="2.75" fill="#ff0000"/>
<circle cx="485.87" cy="438.04" r="2.75" fill="#ff0000"/>
<circle cx="509.71" cy="438.04" r="2.75" fill="#ff0000"/>
<circle cx="533.55" cy="427.35" r="2.75" fill="#ff0000"/>
<circle cx="557.39" cy="427.35" r="2.75" fill="#ff0000"/>
<circle cx="581.23" cy="416.67" r="2.75" fill="#ff0000"/>
<circle cx="605.08" cy="416.67" r="2.75" fill="#ff0000"/>
<circle cx="628.92" cy="405.98" r="2.75" fill="#ff0000"/>
<circle cx="652.76" cy="405.98" r="2.75" fill="#ff0000"/>
<polyline points="414.34,502.15 438.18,480.78 462.02,459.41 485.87,448.72 509.71,438.04 533.55,427.35 557.39,416.67 581.23,416.67 605.08,405.98 628.92,405.98 652.76,405.98" fill="none" stroke="#0000ff" stroke-width="1.1"/>
<polygon points="414.34,498.15 417.81,504.15 410.88,504.15" fill="#0000ff"/>
<polygon points="438.18,476.78 441.65,482.78 434.72,482.78" fill="#0000ff"/>
<polygon points="462.02,455.41 465.49,461.41 458.56,461.41" fill="#0000ff"/>
<polygon points="485.87,444.72 489.33,450.72 482.4,450.72" fill="#0000ff"/>
<polygon points="509.71,434.04 513.17,440.04 506.24,440.04" fill="#0000ff"/>
<polygon points="533.55,423.35 537.01,429.35 530.09,429.35" fill="#0000ff"/>
<polygon points="557.39,412.67 560.86,418.67 553.93,418.67" fill="#0000ff"/>
<polygon points="581.23,412.67 584.7,418.67 577.77,418.67" fill="#0000ff"/>
<polygon points="605.08,401.98 608.54,407.98 601.61,407.98" fill="#0000ff"/>
<polygon points="628.92,401.98 632.38,407.98 625.45,407.98" fill="#0000ff"/>
<polygon points="652.76,401.98 656.22,407.98 649.29,407.98" fill="#0000ff"/>
<polyline points="414.34,448.72 438.18,448.72 462.02,438.04 485.87,438.04 509.71,427.35 533.55,427.35 557.39,427.35 581.23,427.35 605.08,416.67 628.92,416.67 652.76,416.67" fill="none" stroke="#008080" stroke-width="1.1"/>
<polygon points="414.34,452.72 417.81,446.72 410.88,446.72" fill="#008080"/>
<polygon points="438.18,452.72 441.65,446.72 434.72,446.72" fill="#008080"/>
<polygon points="462.02,442.04 465.49,436.04 458.56,436.04" fill="#008080"/>
<polygon points="485.87,442.04 489.33,436.04 482.4,436.04" fill="#008080"/>
<polygon points="509.71,431.35 513.17,425.35 506.24,425.35" fill="#008080"/>
<polygon points="533.55,431.35 537.01,425.35 530.09,425.35" fill="#008080"/>
<polygon points="557.39,431.35 560.86,425.35 553.93,425.35" fill="#008080"/>
<polygon points="581.23,431.35 584.7,425.35 577.77,425.35" fill="#008080"/>
<polygon points="605.08,420.67 608.54,414.67 601.61,414.67" fill="#008080"/>
<polygon points="628.92,420.67 632.38,414.67 625.45,414.67" fill="#008080"/>
<polygon points="652.76,420.67 656.22,414.67 649.29,414.67" fill="#008080"/>
<polyline points="414.34,448.72 438.18,438.04 462.02,438.04 485.87,427.35 509.71,427.35 533.55,427.35 557.39,427.35 581.23,427.35 605.08,427.35 628.92,416.67 652.76,416.67" fill="none" stroke="#ff00ff" stroke-width="1.1"/>
<polygon points="410.34,448.72 416.34,445.26 416.34,452.18" fill="#ff00ff"/>
<polygon points="434.18,438.04 440.18,434.57 440.18,441.5" fill="#ff00ff"/>
<polygon points="458.02,438.04 464.02,434.57 464.02,441.5" fill="#ff00ff"/>
<polygon points="481.87,427.35 487.87,423.89 487.87,430.81" fill="#ff00ff"/>
<polygon points="505.71,427.35 511.71,423.89 511.71,430.81" fill="#ff00ff"/>
<polygon points="529.55,427.35 535.55,423.89 535.55,430.81" fill="#ff00ff"/>
<polygon points="553.39,427.35 559.39,423.89 559.39,430.81" fill="#ff00ff"/>
<polygon points="577.23,427.35 583.23,423.89 583.23,430.81" fill="#ff00ff"/>
<polygon points="601.08,427.35 607.08,423.89 607.08,430.81" fill="#ff00ff"/>
<polygon points="624.92,416.67 630.92,413.2 630.92,420.13" fill="#ff00ff"/>
<polygon points="648.76,416.67 654.76,413.2 654.76,420.13" fill="#ff00ff"/>
<path d="M390.5 320.5H676.6V534.2H390.5Z" fill="none" stroke="#000" stroke-width="1.1"/>
<path d="M390.5 534.2v3.8M414.34 534.2v2M414.34 320.5v2M438.18 534.2v3.8M438.18 320.5v3.8M462.02 534.2v2M462.02 320.5v2M485.87 534.2v3.8M485.87 320.5v3.8M509.71 534.2v2M509.71 320.5v2M533.55 534.2v3.8M533.55 320.5v3.8M557.39 534.2v2M557.39 320.5v2M581.23 534.2v3.8M581.23 320.5v3.8M605.08 534.2v2M605.08 320.5v2M628.92 534.2v3.8M628.92 320.5v3.8M652.76 534.2v2M652.76 320.5v2M676.6 534.2v3.8M390.5 534.2h-4M390.5 523.52h-2M676.6 523.52h-2M390.5 512.83h-4M676.6 512.83h-4M390.5 502.15h-2M676.6 502.15h-2M390.5 491.46h-4M676.6 491.46h-4M390.5 480.78h-2M676.6 480.78h-2M390.5 470.09h-4M676.6 470.09h-4M390.5 459.41h-2M676.6 459.41h-2M390.5 448.72h-4M676.6 448.72h-4M390.5 438.04h-2M676.6 438.04h-2M390.5 427.35h-4M676.6 427.35h-4M390.5 416.67h-2M676.6 416.67h-2M390.5 405.98h-4M676.6 405.98h-4M390.5 395.3h-2M676.6 395.3h-2M390.5 384.61h-4M676.6 384.61h-4M390.5 373.93h-2M676.6 373.93h-2M390.5 363.24h-4M676.6 363.24h-4M390.5 352.55h-2M676.6 352.55h-2M390.5 341.87h-4M676.6 341.87h-4M390.5 331.18h-2M676.6 331.18h-2M390.5 320.5h-4" stroke="#000" stroke-width="1.1" fill="none"/>
<text transform="translate(390.5 551.3) scale(1 1.0412)" text-anchor="middle" font-size="13.0">0.4</text><text transform="translate(438.18 551.3) scale(1 1.0412)" text-anchor="middle" font-size="13.0">0.6</text><text transform="translate(485.87 551.3) scale(1 1.0412)" text-anchor="middle" font-size="13.0">0.8</text><text transform="translate(533.55 551.3) scale(1 1.0412)" text-anchor="middle" font-size="13.0"> .0</text><path d="M763 0L583 0L583 1147Q518 1085 412 1023Q306 961 222 930L222 1104Q371 1174 482 1274Q593 1374 639 1466L763 1466Z" transform="translate(524.51 551.3) scale(0.006348 -0.006348)" fill="#000" stroke="#000" stroke-width="55.14"/><text transform="translate(581.23 551.3) scale(1 1.0412)" text-anchor="middle" font-size="13.0"> .2</text><path d="M763 0L583 0L583 1147Q518 1085 412 1023Q306 961 222 930L222 1104Q371 1174 482 1274Q593 1374 639 1466L763 1466Z" transform="translate(572.2 551.3) scale(0.006348 -0.006348)" fill="#000" stroke="#000" stroke-width="55.14"/><text transform="translate(628.92 551.3) scale(1 1.0412)" text-anchor="middle" font-size="13.0"> .4</text><path d="M763 0L583 0L583 1147Q518 1085 412 1023Q306 961 222 930L222 1104Q371 1174 482 1274Q593 1374 639 1466L763 1466Z" transform="translate(619.88 551.3) scale(0.006348 -0.006348)" fill="#000" stroke="#000" stroke-width="55.14"/><text transform="translate(676.6 551.3) scale(1 1.0412)" text-anchor="middle" font-size="13.0"> .6</text><path d="M763 0L583 0L583 1147Q518 1085 412 1023Q306 961 222 930L222 1104Q371 1174 482 1274Q593 1374 639 1466L763 1466Z" transform="translate(667.56 551.3) scale(0.006348 -0.006348)" fill="#000" stroke="#000" stroke-width="55.14"/><text transform="translate(383.7 538.3) scale(1 1.0412)" text-anchor="end" font-size="13.0">- .0</text><path d="M763 0L583 0L583 1147Q518 1085 412 1023Q306 961 222 930L222 1104Q371 1174 482 1274Q593 1374 639 1466L763 1466Z" transform="translate(365.63 538.3) scale(0.006348 -0.006348)" fill="#000" stroke="#000" stroke-width="55.14"/><text transform="translate(383.7 516.93) scale(1 1.0412)" text-anchor="end" font-size="13.0">-0.8</text><text transform="translate(383.7 495.56) scale(1 1.0412)" text-anchor="end" font-size="13.0">-0.6</text><text transform="translate(383.7 474.19) scale(1 1.0412)" text-anchor="end" font-size="13.0">-0.4</text><text transform="translate(383.7 452.82) scale(1 1.0412)" text-anchor="end" font-size="13.0">-0.2</text><text transform="translate(383.7 431.45) scale(1 1.0412)" text-anchor="end" font-size="13.0">0.0</text><text transform="translate(383.7 410.08) scale(1 1.0412)" text-anchor="end" font-size="13.0">0.2</text><text transform="translate(383.7 388.71) scale(1 1.0412)" text-anchor="end" font-size="13.0">0.4</text><text transform="translate(383.7 367.34) scale(1 1.0412)" text-anchor="end" font-size="13.0">0.6</text><text transform="translate(383.7 345.97) scale(1 1.0412)" text-anchor="end" font-size="13.0">0.8</text><text transform="translate(383.7 324.6) scale(1 1.0412)" text-anchor="end" font-size="13.0"> .0</text><path d="M763 0L583 0L583 1147Q518 1085 412 1023Q306 961 222 930L222 1104Q371 1174 482 1274Q593 1374 639 1466L763 1466Z" transform="translate(365.63 324.6) scale(0.006348 -0.006348)" fill="#000" stroke="#000" stroke-width="55.14"/>
<text transform="translate(533.15 572.7) scale(1 1.0412)" text-anchor="middle" font-size="13.0" letter-spacing="-0.02">Stiffness coefficient of suspender</text>
<text transform="translate(353.2 435.4) rotate(-90) scale(1 1.0412)" text-anchor="middle" font-size="13.0" letter-spacing="-0.06">Frequency deviation / %</text>
<path d="M403.1 337.5H429.8" stroke="#000000" stroke-width="1.1"/><rect x="413.95" y="335" width="5" height="5" fill="#000000"/><text transform="translate(433.6 341.7) scale(1 1.0412)" font-size="12.0">LG</text><path d="M403.1 352H429.8" stroke="#ff0000" stroke-width="1.1"/><circle cx="416.45" cy="352" r="2.75" fill="#ff0000"/><text transform="translate(433.6 356.2) scale(1 1.0412)" font-size="12.0"> -ASY-V</text><path d="M763 0L583 0L583 1147Q518 1085 412 1023Q306 961 222 930L222 1104Q371 1174 482 1274Q593 1374 639 1466L763 1466Z" transform="translate(433.6 356.2) scale(0.005859 -0.005859)" fill="#000" stroke="#000" stroke-width="59.73"/><path d="M403.1 366.5H429.8" stroke="#0000ff" stroke-width="1.1"/><polygon points="416.45,362.5 419.91,368.5 412.99,368.5" fill="#0000ff"/><text transform="translate(433.6 370.7) scale(1 1.0412)" font-size="12.0"> -SY-V</text><path d="M763 0L583 0L583 1147Q518 1085 412 1023Q306 961 222 930L222 1104Q371 1174 482 1274Q593 1374 639 1466L763 1466Z" transform="translate(433.6 370.7) scale(0.005859 -0.005859)" fill="#000" stroke="#000" stroke-width="59.73"/><path d="M403.1 381H429.8" stroke="#008080" stroke-width="1.1"/><polygon points="416.45,385 419.91,379 412.99,379" fill="#008080"/><text transform="translate(433.6 385.2) scale(1 1.0412)" font-size="12.0"> -SY-T</text><path d="M763 0L583 0L583 1147Q518 1085 412 1023Q306 961 222 930L222 1104Q371 1174 482 1274Q593 1374 639 1466L763 1466Z" transform="translate(433.6 385.2) scale(0.005859 -0.005859)" fill="#000" stroke="#000" stroke-width="59.73"/><path d="M403.1 395.5H429.8" stroke="#ff00ff" stroke-width="1.1"/><polygon points="412.45,395.5 418.45,392.04 418.45,398.96" fill="#ff00ff"/><text transform="translate(433.6 399.7) scale(1 1.0412)" font-size="12.0"> -ASY-T</text><path d="M763 0L583 0L583 1147Q518 1085 412 1023Q306 961 222 930L222 1104Q371 1174 482 1274Q593 1374 639 1466L763 1466Z" transform="translate(433.6 399.7) scale(0.005859 -0.005859)" fill="#000" stroke="#000" stroke-width="59.73"/>
<g font-family="Liberation Serif, serif" font-size="17.8"><text class="c" x="341.5" y="281.3" text-anchor="middle">(a) Main cable</text><text class="c" x="341.5" y="607.1" text-anchor="middle">(b) Suspender</text></g>
</svg>
</body></html>
